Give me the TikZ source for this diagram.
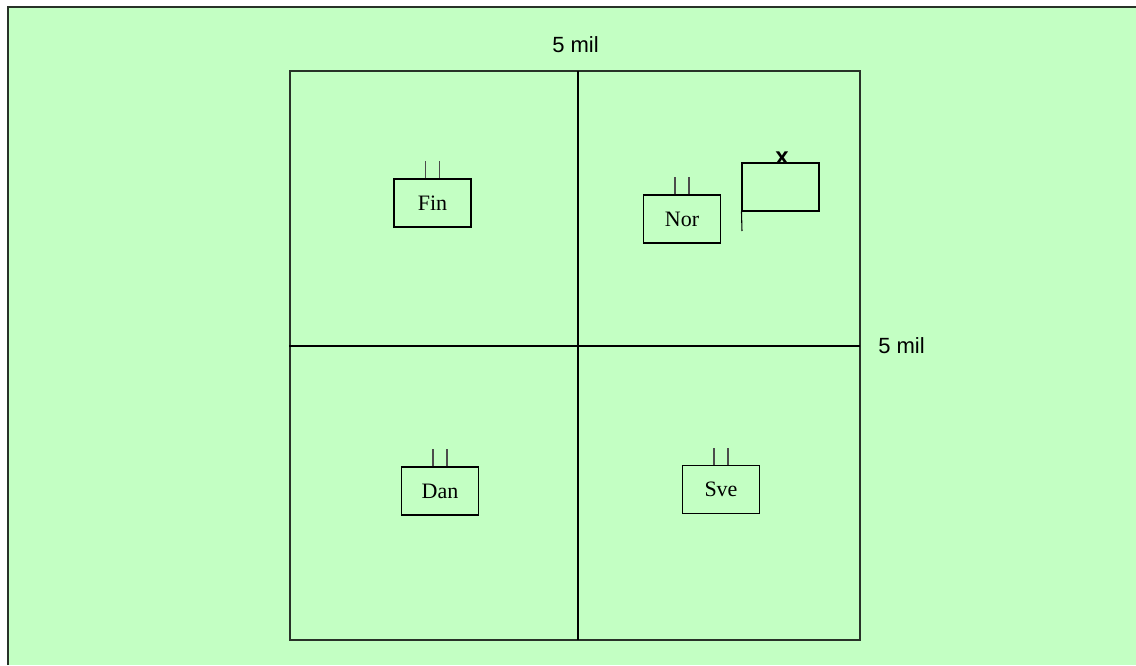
\documentclass[tikz,border=0pt]{standalone}
\usepackage{fontspec}
\setmainfont{Liberation Serif}
\setsansfont{Liberation Sans}
\definecolor{bggreen}{RGB}{195,255,195}
\definecolor{linegray}{RGB}{40,50,40}
\tikzset{
  country/.style={draw=black, line width=0.8pt, minimum width=77*0.75pt, minimum height=48*0.75pt, inner sep=0pt, font=\rmfamily\fontsize{16.5}{18}\selectfont},
  tick/.style={draw=black!70, line width=0.8pt},
  axis/.style={draw=black, line width=1.2pt},
  milelabel/.style={font=\sffamily\fontsize{16.5}{18}\selectfont, inner sep=0pt}
}
\begin{document}
\begin{tikzpicture}[x=0.75pt,y=-0.75pt]
\useasboundingbox (0,0) rectangle (1136,665);
\fill[white] (0,0) rectangle (1136,665);
\fill[bggreen] (8,7) rectangle (1136,665);
\draw[line width=1.3pt, linegray] (8,665) -- (8,7) -- (1136,7);
% outer square
\draw[line width=0.9pt, linegray] (290,71) rectangle (860,640);
% axes
\coordinate (vt) at (578,71);
\coordinate (vb) at (578,640);
\coordinate (hl) at (289,346);
\coordinate (hr) at (860,346);
\draw[axis] (vt) -- (vb);
\draw[axis] (hl) -- (hr);
% labels
\node[milelabel] (top) at (575.5,45) {5 mil};
\node[milelabel, anchor=west] (right) at (878,346) {5 mil};
% country boxes
\node[country] (fin) at (432.5,203) {Fin};
\node[country] (nor) at (682,219) {Nor};
\node[country] (dan) at (440,491) {Dan};
\node[country] (sve) at (721,489.5) {Sve};
\foreach \b in {fin,nor,dan,sve}{
  \draw[tick] ([xshift=-5.25pt]\b.north) -- ++(0,-17);
  \draw[tick] ([xshift=5.25pt]\b.north) -- ++(0,-17);
}
% flag
\node[draw=black, line width=0.8pt, minimum width=77*0.75pt, minimum height=48*0.75pt, inner sep=0pt] (flag) at (780.5,187) {};
\coordinate (pole) at (742,231);
\draw[line width=0.8pt] (flag.south west) -- (pole);
\node[font=\sffamily\bfseries\fontsize{18}{18}\selectfont, anchor=base, inner sep=0pt] (xmark) at (782,164) {x};
\end{tikzpicture}
\end{document}
